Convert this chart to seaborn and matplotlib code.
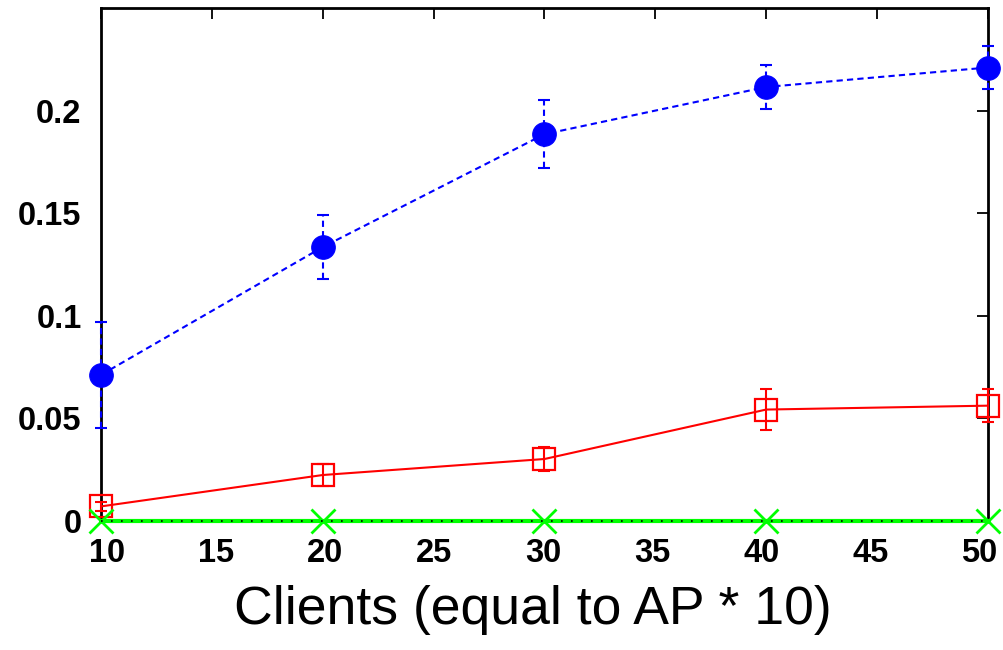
import matplotlib
matplotlib.use("Agg")
import matplotlib.pyplot as plt
import matplotlib.transforms as mtransforms
import seaborn as sns
import pandas as pd

# Client counts on the x axis
clients = [10, 20, 30, 40, 50]

# Blue series (filled circles, dashed) with error half-widths
blue_mean = [0.0712, 0.1335, 0.1885, 0.2115, 0.2210]
blue_err = [0.026, 0.0155, 0.0165, 0.0105, 0.0105]

# Red series (open squares, solid) with error half-widths
red_mean = [0.0071, 0.0224, 0.0302, 0.0543, 0.0562]
red_err = [0.002, 0.0055, 0.006, 0.0098, 0.0080]

# Green series (crosses) along zero
green_mean = [0.0, 0.0, 0.0, 0.0, 0.0]

y_ticks = [0, 0.05, 0.1, 0.15, 0.2]
y_tick_labels = ["0", "0.05", "0.1", "0.15", "0.2"]
x_ticks = [10, 15, 20, 25, 30, 35, 40, 45, 50]

sns.set_style("white")
plt.rcParams["font.family"] = ["Liberation Sans", "DejaVu Sans"]
plt.rcParams["text.color"] = "black"
plt.rcParams["xtick.color"] = "black"
plt.rcParams["ytick.color"] = "black"
plt.rcParams["axes.labelcolor"] = "black"

fig = plt.figure(figsize=(10.04, 6.5), dpi=100)
ax = fig.add_axes([0.1006, 0.1985, 0.8834, 0.7892])

df = pd.DataFrame({"clients": clients, "blue": blue_mean,
                   "red": red_mean, "green": green_mean})

# Error bars
eb_blue = ax.errorbar(clients, blue_mean, yerr=blue_err, fmt="none",
                      ecolor="#0000ff", elinewidth=1.5, capsize=4.3,
                      capthick=1.5, zorder=3)
for coll in eb_blue[2]:
    coll.set_linestyle((0, (3, 2)))
    coll.set_clip_on(False)
for cap in eb_blue[1]:
    cap.set_clip_on(False)

eb_red = ax.errorbar(clients, red_mean, yerr=red_err, fmt="none",
                     ecolor="#ff0000", elinewidth=1.5, capsize=4,
                     capthick=1.5, zorder=3)
for part in list(eb_red[1]) + list(eb_red[2]):
    part.set_clip_on(False)

# Green series along zero, with a dotted zero axis on top
sns.lineplot(data=df, x="clients", y="green", ax=ax, color="#00ff00",
             linewidth=3, marker="x", markersize=17, markeredgewidth=2,
             markeredgecolor="#00ff00", zorder=6, clip_on=False)
ax.axhline(0, color="black", linewidth=1.2, linestyle=(0, (1, 5)), zorder=6.5,
           clip_on=False)

# Red series
sns.lineplot(data=df, x="clients", y="red", ax=ax, color="#ff0000",
             linewidth=1.5, marker="s", markersize=16, markerfacecolor="none",
             markeredgecolor="#ff0000", markeredgewidth=1.6, zorder=4,
             clip_on=False)

# Blue series
sns.lineplot(data=df, x="clients", y="blue", ax=ax, color="#0000ff",
             linewidth=1.5, linestyle=(0, (3, 2)), marker="o", markersize=17,
             markeredgecolor="#0000ff", zorder=5, clip_on=False)

ax.set_xlim(10, 50)
ax.set_ylim(0, 0.25)
ax.set_xticks(x_ticks)
ax.set_yticks(y_ticks)
ax.set_yticklabels(y_tick_labels)

ax.tick_params(axis="both", direction="in", length=8, width=1.3,
               top=True, right=True, labelsize=23.5, color="black",
               labelcolor="black")
ax.tick_params(axis="y", pad=14)
ax.tick_params(axis="x", pad=12)
for lab in ax.get_xticklabels() + ax.get_yticklabels():
    lab.set_fontweight("bold")

# Pull the x tick labels slightly toward the middle of the axis
for val, lab in zip(x_ticks, ax.get_xticklabels()):
    dx = (6.5 - 0.375 * (val - 10)) / 100.0
    lab.set_transform(lab.get_transform() +
                      mtransforms.ScaledTranslation(dx, 0, fig.dpi_scale_trans))

for side in ["left", "right", "top", "bottom"]:
    ax.spines[side].set_visible(True)
    ax.spines[side].set_color("black")
    ax.spines[side].set_linewidth(2)

ax.set_ylabel("")
ax.set_xlabel("Clients (equal to AP * 10)", fontsize=38.5, va="center")
ax.xaxis.set_label_coords(0.487, -0.173)

fig.savefig("out.png", dpi=100)
